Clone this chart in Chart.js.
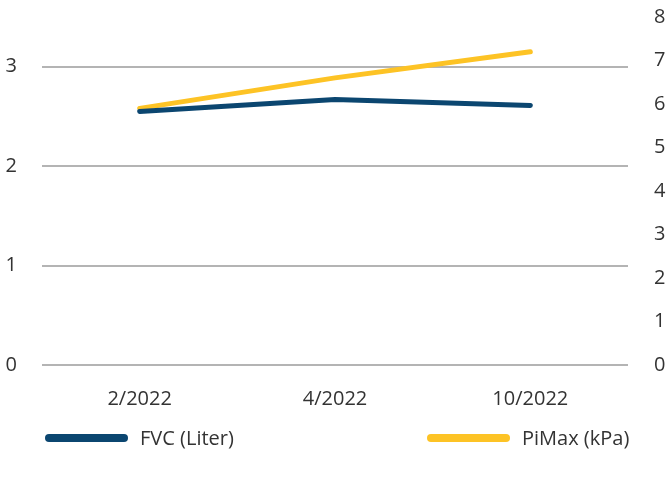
<!DOCTYPE html>
<html>
<head>
<meta charset="utf-8">
<script src="https://cdn.jsdelivr.net/npm/chart.js@4"></script>
<style>
    html, body { margin: 0; padding: 0; background: #fff; }
    #wrap { width: 668px; height: 479px; }
</style>
</head>
<body>
<div id="wrap"><canvas id="chart"></canvas></div>
<script>
const categories = ["2/2022", "4/2022", "10/2022"];
const fvcValues = [2.55, 2.67, 2.61];
const pimaxValues = [5.9, 6.6, 7.2];
const leftTicks = [0, 1, 2, 3];
const rightTicks = [0, 1, 2, 3, 4, 5, 6, 7, 8];

Chart.defaults.font.family = "'Open Sans', 'Noto Sans', sans-serif";
Chart.defaults.font.size = 20;
Chart.defaults.color = "#333";

// legend spread across the bottom (built-in legend wraps with big gaps)
const spreadLegend = {
    id: "spreadLegend",
    afterDraw(c) {
        const ctx = c.ctx;
        const starts = [45, 427];
        const y = 438;
        ctx.save();
        ctx.font = "20px 'Open Sans', 'Noto Sans', sans-serif";
        ctx.textBaseline = "middle";
        c.data.datasets.forEach((d, i) => {
            const x = starts[i];
            ctx.fillStyle = d.borderColor;
            ctx.beginPath();
            ctx.roundRect(x, y - 4, 83, 8, 4);
            ctx.fill();
            ctx.fillStyle = "#333";
            ctx.fillText(d.label, x + 95, y + 1);
        });
        ctx.restore();
    }
};

const chart = document.querySelector("#chart").getContext("2d");

new Chart(chart, {
    type: "line",
    data: {
        labels: categories,
        datasets: [
            {
                label: "FVC (Liter)",
                data: fvcValues,
                yAxisID: "y",
                borderColor: "#0b4670",
                backgroundColor: "#0b4670",
                borderWidth: 5,
                pointRadius: 0,
                borderCapStyle: "round",
                tension: 0
            },
            {
                label: "PiMax (kPa)",
                data: pimaxValues,
                yAxisID: "y1",
                borderColor: "#fdc325",
                backgroundColor: "#fdc325",
                borderWidth: 5,
                pointRadius: 0,
                borderCapStyle: "round",
                tension: 0
            }
        ]
    },
    options: {
        responsive: true,
        maintainAspectRatio: false,
        animation: false,
        layout: { padding: { top: 17, bottom: 54, left: 0, right: 0 } },
        plugins: {
            tooltip: { enabled: false },
            legend: { display: false }
        },
        scales: {
            x: {
                offset: true,
                grid: { display: false },
                border: { display: false },
                afterFit: (s) => { s.height = 60; },
                ticks: { padding: 14 }
            },
            y: {
                position: "left",
                min: 0,
                max: 3.5,
                afterBuildTicks: (s) => { s.ticks = leftTicks.map(v => ({ value: v })); },
                afterFit: (s) => { s.width = 42; s.paddingTop = 0; s.paddingBottom = 0; },
                grid: { color: "#b4b4b4", lineWidth: 2, drawTicks: false },
                border: { display: false },
                ticks: { padding: 25 }
            },
            y1: {
                position: "right",
                min: 0,
                max: 8,
                afterBuildTicks: (s) => { s.ticks = rightTicks.map(v => ({ value: v })); },
                afterFit: (s) => { s.width = 40; s.paddingTop = 0; s.paddingBottom = 0; },
                grid: { display: false, drawTicks: false },
                border: { display: false },
                ticks: { padding: 26, autoSkip: false }
            }
        }
    },
    plugins: [spreadLegend]
});
</script>
</body>
</html>
